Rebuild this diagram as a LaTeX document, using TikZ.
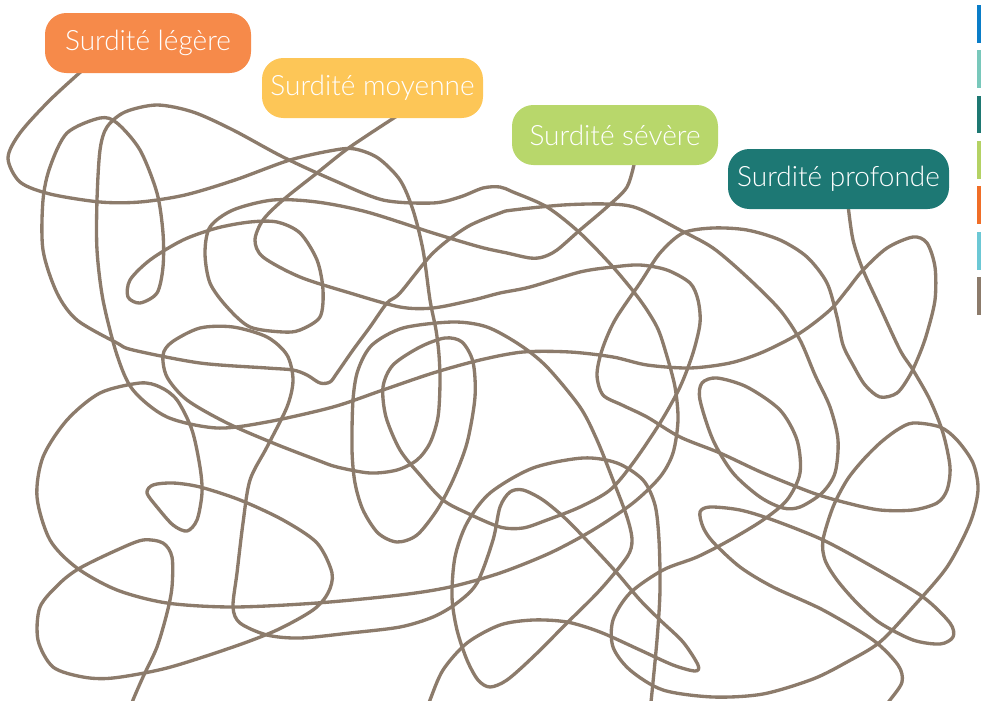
\documentclass[tikz,border=0pt]{standalone}
\usepackage{fontspec}
\newfontfamily\labfont{Lato Light}
\definecolor{strc}{HTML}{8C7B6B}
\definecolor{cleg}{HTML}{F68A4A}
\definecolor{cmoy}{HTML}{FDC657}
\definecolor{csev}{HTML}{B8D76B}
\definecolor{cpro}{HTML}{1D7874}
\definecolor{bara}{HTML}{0A7DC8}
\definecolor{barb}{HTML}{79C8BB}
\definecolor{barc}{HTML}{1E7872}
\definecolor{bard}{HTML}{B4D264}
\definecolor{bare}{HTML}{F06E28}
\definecolor{barf}{HTML}{6CC8D5}
\definecolor{barg}{HTML}{8C7B6B}
\begin{document}
\begin{tikzpicture}[x=0.75pt,y=-0.75pt,
  stringline/.style={draw=strc, line width=2.5pt, line cap=round, line join=round},
  labbox/.style={rounded corners=16pt, minimum height=45pt, text=white, font=\labfont\fontsize{21}{25}\selectfont, inner sep=0pt},
  barstrip/.style={fill=#1, draw=none}]
\useasboundingbox (0,0) rectangle (981,700);
\clip (0,0) rectangle (981,700);

% Legere string
\draw[stringline] plot[smooth] coordinates {(85,68) (50,100) (20,133) (8,158) (20,182) (50,194) (100,202) (140,202) (185,195) (235,180) (290,160) (335,150) (355,149) (378,158) (400,180) (413,210) (423,250) (430,300) (436,330) (439,355) (440,383) (438,417) (430,443) (417,460) (397,470) (370,473) (337,467) (317,460) (273,443) (227,423) (187,400) (167,377) (163,355) (172,342) (200,328) (233,327) (267,337) (287,355) (293,380) (287,407) (267,447) (250,480) (243,523) (237,573) (233,607) (240,623) (267,635) (300,638) (350,633) (400,627) (433,617) (457,603) (477,583) (493,540) (500,507) (510,492) (523,490) (543,500) (567,520) (593,547) (617,573) (640,600) (660,620) (683,642) (698,665) (695,671) (673,665) (640,650) (600,632) (567,622) (533,620) (500,625) (467,643) (443,670) (430,700) (426,712)};

% Moyenne string
\draw[stringline] plot[smooth] coordinates {(400,114) (350,147) (317,173) (283,200) (263,220) (255,240) (263,257) (300,277) (350,293) (400,307) (433,308) (473,300) (500,293) (530,287) (580,272) (613,267) (640,265) (667,270) (690,283) (698,300) (700,323) (693,353) (680,387) (660,423) (633,463) (610,490) (580,507) (547,520) (523,528) (500,527) (467,513) (443,500) (420,475) (400,450) (386,417) (383,387) (393,365) (420,347) (445,338) (462,342) (473,362) (475,397) (467,443) (453,480) (437,510) (417,535) (397,542) (378,533) (363,510) (355,483) (352,450) (353,400) (358,370) (372,345) (403,328) (453,322) (487,327) (520,345) (547,367) (580,407) (597,440) (613,480) (627,517) (632,540) (627,557) (600,590) (567,623) (533,657) (507,680) (490,687) (478,680) (467,660) (457,630) (452,597) (455,557) (467,523) (490,493) (533,468) (583,458) (617,463) (643,480) (655,505) (659,540) (660,590) (657,640) (650,712)};

% Severe string
\draw[stringline] plot[smooth] coordinates {(635,160) (627,187) (607,207) (580,230) (557,250) (543,257) (530,258) (507,253) (480,247) (433,233) (367,212) (317,202) (273,200) (233,210) (210,227) (205,253) (210,283) (227,307) (250,327) (283,332) (300,330) (320,317) (323,290) (317,260) (300,233) (277,222) (250,222) (217,228) (183,240) (150,260) (130,280) (128,297) (140,303) (157,293) (163,267) (163,233) (157,193) (140,150) (117,123) (100,118) (67,133) (50,167) (43,200) (43,250) (57,293) (77,320) (117,343) (133,350) (200,363) (267,368) (293,370) (307,375) (320,383) (330,382) (337,373) (353,350) (370,327) (387,303) (400,293) (433,253) (467,227) (500,213) (513,210) (563,205) (607,204) (637,208) (680,230) (713,248) (747,277) (780,310) (800,340) (815,375) (830,407) (838,440) (835,473) (822,493) (800,507) (783,508) (760,497) (733,473) (713,440) (700,400) (702,383) (717,378) (747,387) (780,410) (797,440) (800,473) (787,500) (763,520) (730,540) (697,557) (663,570) (630,593) (613,620) (613,647) (630,670) (663,690) (713,697) (763,694) (813,679) (847,662) (880,642) (913,607) (947,567) (970,523) (978,490) (973,463) (957,440) (940,427) (913,423) (897,430) (880,443) (863,460) (847,480) (833,507) (823,540) (825,560) (837,580) (857,603) (880,623) (913,640) (940,644) (953,637) (950,623) (923,597) (873,567) (823,540) (773,520) (740,510) (710,507) (700,512) (703,527) (713,542) (740,567) (773,587) (823,610) (873,640) (898,665) (902,682) (890,700) (880,712)};

% Profonde string
\draw[stringline] plot[smooth] coordinates {(848,205) (853,240) (863,270) (880,307) (900,350) (913,370) (930,400) (943,433) (950,467) (947,490) (937,503) (913,510) (880,510) (847,503) (813,493) (763,473) (720,453) (680,437) (647,417) (622,405) (603,395) (597,375) (602,350) (615,320) (640,283) (660,253) (683,233) (713,228) (747,230) (780,240) (807,257) (827,283) (837,317) (843,345) (853,365) (865,385) (880,397) (897,393) (910,375) (920,353) (927,333) (935,300) (935,267) (927,243) (913,237) (887,248) (863,270) (847,290) (830,310) (800,333) (763,352) (730,363) (690,368) (647,365) (613,357) (570,352) (523,352) (480,360) (433,373) (383,390) (333,407) (267,422) (217,428) (167,417) (133,390) (117,355) (103,300) (97,250) (97,200) (100,150) (107,127) (125,112) (157,105) (193,112) (233,130) (283,157) (333,180) (383,200) (433,203) (460,197) (483,188) (500,187) (513,192) (547,207) (580,233) (613,267) (640,300) (657,327) (666,353) (675,387) (678,420) (673,453) (660,477) (633,503) (593,530) (550,553) (500,573) (450,587) (400,595) (317,603) (233,607) (167,603) (117,590) (77,568) (50,540) (37,497) (43,457) (67,420) (100,393) (140,383) (160,387) (177,400) (192,430) (200,467) (202,493) (197,520) (187,531) (173,525) (157,507) (147,493) (153,485) (173,483) (200,487) (240,500) (283,520) (317,543) (332,573) (328,593) (313,610) (277,630) (233,647) (167,668) (113,678) (83,677) (53,667) (38,640) (40,607) (60,583) (80,568) (117,550) (143,540) (163,543) (172,557) (172,587) (167,613) (157,647) (143,677) (133,700) (129,712)};

% labels
\node[labbox, fill=cleg, minimum width=154.5pt] (leg) at (148,43) {Surdité légère};
\node[labbox, fill=cmoy, minimum width=165.75pt] (moy) at (372.5,88) {Surdité moyenne};
\node[labbox, fill=csev, minimum width=154.5pt] (sev) at (615,135) {Surdité sévère};
\node[labbox, fill=cpro, minimum width=165.75pt] (pro) at (838.5,179) {Surdité profonde};

% colour strips
\fill[barstrip=bara] (977,5) rectangle (981,43);
\fill[barstrip=barb] (977,50) rectangle (981,88);
\fill[barstrip=barc] (977,96) rectangle (981,133);
\fill[barstrip=bard] (977,141) rectangle (981,179);
\fill[barstrip=bare] (977,186) rectangle (981,224);
\fill[barstrip=barf] (977,232) rectangle (981,270);
\fill[barstrip=barg] (977,277) rectangle (981,315);
\end{tikzpicture}
\end{document}
